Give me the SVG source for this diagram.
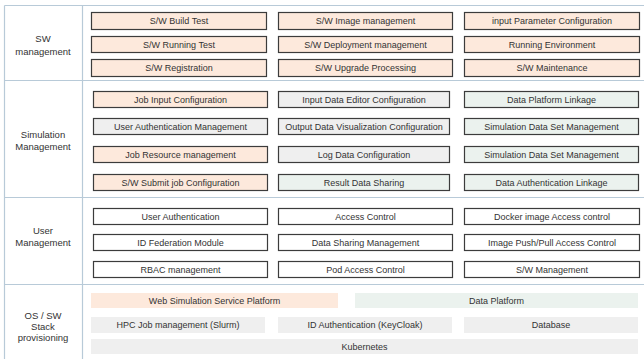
<svg xmlns="http://www.w3.org/2000/svg" width="644" height="359" viewBox="0 0 644 359">
<style>
text{font-family:"Liberation Sans",Arial,sans-serif;font-size:9px;fill:#333;text-anchor:middle}
.lbl{font-size:9.5px}
.b{stroke:#3c3c3c;stroke-width:1.2}
.p{fill:#fde9dc}
.g{fill:#efefef}
.n{fill:#ebf2ee}
.w{fill:#ffffff}
.grid{stroke:#b8cad8;stroke-width:1.2;fill:none}
</style>
<rect width="644" height="359" fill="#ffffff"/>
<g id="grid">
<path class="grid" d="M4.5 5.5H644M4.5 5.5V359M82.5 5.5V359M4.5 80.5H644M4.5 197.5H644M4.5 284.5H644"/>
</g>
<g id="labels">
<text class="lbl" x="43" y="42">SW</text>
<text class="lbl" x="43" y="55">management</text>
<text class="lbl" x="43" y="138">Simulation</text>
<text class="lbl" x="43" y="150">Management</text>
<text class="lbl" x="43" y="234">User</text>
<text class="lbl" x="43" y="246">Management</text>
<text class="lbl" x="43" y="319">OS / SW</text>
<text class="lbl" x="43" y="330">Stack</text>
<text class="lbl" x="43" y="341">provisioning</text>
</g>
<g id="sw-build"><rect class="b p" x="91.5" y="12.5" width="175" height="17"/><text x="179" y="24">S/W Build Test</text></g>
<g id="sw-image"><rect class="b p" x="278.5" y="12.5" width="174" height="17"/><text x="365.5" y="24">S/W Image management</text></g>
<g id="sw-param"><rect class="b p" x="464.5" y="12.5" width="175" height="17"/><text x="552" y="24">input Parameter Configuration</text></g>
<g id="sw-run"><rect class="b p" x="91.5" y="36.5" width="175" height="16"/><text x="179" y="47.5">S/W Running Test</text></g>
<g id="sw-deploy"><rect class="b p" x="278.5" y="36.5" width="174" height="16"/><text x="365.5" y="47.5">S/W Deployment management</text></g>
<g id="sw-env"><rect class="b p" x="464.5" y="36.5" width="175" height="16"/><text x="552" y="47.5">Running Environment</text></g>
<g id="sw-reg"><rect class="b p" x="91.5" y="59.5" width="175" height="17"/><text x="179" y="71">S/W Registration</text></g>
<g id="sw-upgrade"><rect class="b p" x="278.5" y="59.5" width="174" height="17"/><text x="365.5" y="71">S/W Upgrade Processing</text></g>
<g id="sw-maint"><rect class="b p" x="464.5" y="59.5" width="175" height="17"/><text x="552" y="71">S/W Maintenance</text></g>

<g id="sim-jobinput"><rect class="b p" x="93.5" y="91.5" width="174" height="16"/><text x="180.5" y="102.5">Job Input Configuration</text></g>
<g id="sim-editor"><rect class="b g" x="278.5" y="91.5" width="171" height="16"/><text x="364" y="102.5">Input Data Editor Configuration</text></g>
<g id="sim-dplink"><rect class="b n" x="464.5" y="91.5" width="174" height="16"/><text x="551.5" y="102.5">Data Platform Linkage</text></g>
<g id="sim-userauth"><rect class="b g" x="93.5" y="118.5" width="174" height="16"/><text x="180.5" y="129.5">User Authentication Management</text></g>
<g id="sim-outvis"><rect class="b g" x="278.5" y="118.5" width="171" height="16"/><text x="364" y="129.5">Output Data Visualization Configuration</text></g>
<g id="sim-dataset1"><rect class="b n" x="464.5" y="118.5" width="174" height="16"/><text x="551.5" y="129.5">Simulation Data Set Management</text></g>
<g id="sim-jobres"><rect class="b p" x="93.5" y="146.5" width="174" height="16"/><text x="180.5" y="157.5">Job Resource management</text></g>
<g id="sim-log"><rect class="b g" x="278.5" y="146.5" width="171" height="16"/><text x="364" y="157.5">Log Data Configuration</text></g>
<g id="sim-dataset2"><rect class="b n" x="464.5" y="146.5" width="174" height="16"/><text x="551.5" y="157.5">Simulation Data Set Management</text></g>
<g id="sim-submit"><rect class="b p" x="93.5" y="174.5" width="174" height="16"/><text x="180.5" y="185.5">S/W Submit job Configuration</text></g>
<g id="sim-result"><rect class="b n" x="278.5" y="174.5" width="171" height="16"/><text x="364" y="185.5">Result Data Sharing</text></g>
<g id="sim-dataauth"><rect class="b n" x="464.5" y="174.5" width="174" height="16"/><text x="551.5" y="185.5">Data Authentication Linkage</text></g>

<g id="um-userauth"><rect class="b w" x="93.5" y="208.5" width="174" height="16"/><text x="180.5" y="219.5">User Authentication</text></g>
<g id="um-access"><rect class="b w" x="278.5" y="208.5" width="174" height="16"/><text x="365.5" y="219.5">Access Control</text></g>
<g id="um-docker"><rect class="b w" x="464.5" y="208.5" width="175" height="16"/><text x="552" y="219.5">Docker image Access control</text></g>
<g id="um-idfed"><rect class="b w" x="93.5" y="234.5" width="174" height="16"/><text x="180.5" y="245.5">ID Federation Module</text></g>
<g id="um-share"><rect class="b w" x="278.5" y="234.5" width="174" height="16"/><text x="365.5" y="245.5">Data Sharing Management</text></g>
<g id="um-push"><rect class="b w" x="464.5" y="234.5" width="175" height="16"/><text x="552" y="245.5">Image Push/Pull Access Control</text></g>
<g id="um-rbac"><rect class="b w" x="93.5" y="261.5" width="174" height="16"/><text x="180.5" y="272.5">RBAC management</text></g>
<g id="um-pod"><rect class="b w" x="278.5" y="261.5" width="174" height="16"/><text x="365.5" y="272.5">Pod Access Control</text></g>
<g id="um-sw"><rect class="b w" x="464.5" y="261.5" width="175" height="16"/><text x="552" y="272.5">S/W Management</text></g>

<g id="os-web"><rect class="p" x="91" y="293" width="247" height="15"/><text x="214.5" y="303.5">Web Simulation Service Platform</text></g>
<g id="os-dp"><rect class="n" x="355" y="293" width="283" height="15"/><text x="496.5" y="303.5">Data Platform</text></g>
<g id="os-hpc"><rect class="g" x="91" y="317" width="174" height="16"/><text x="178" y="328">HPC Job management (Slurm)</text></g>
<g id="os-id"><rect class="g" x="278" y="317" width="174" height="16"/><text x="365" y="328">ID Authentication (KeyCloak)</text></g>
<g id="os-db"><rect class="g" x="464" y="317" width="174" height="16"/><text x="551" y="328">Database</text></g>
<g id="os-k8s"><rect class="g" x="91" y="339" width="547" height="15"/><text x="364.5" y="349.5">Kubernetes</text></g>
<g id="connectors"></g>
</svg>
